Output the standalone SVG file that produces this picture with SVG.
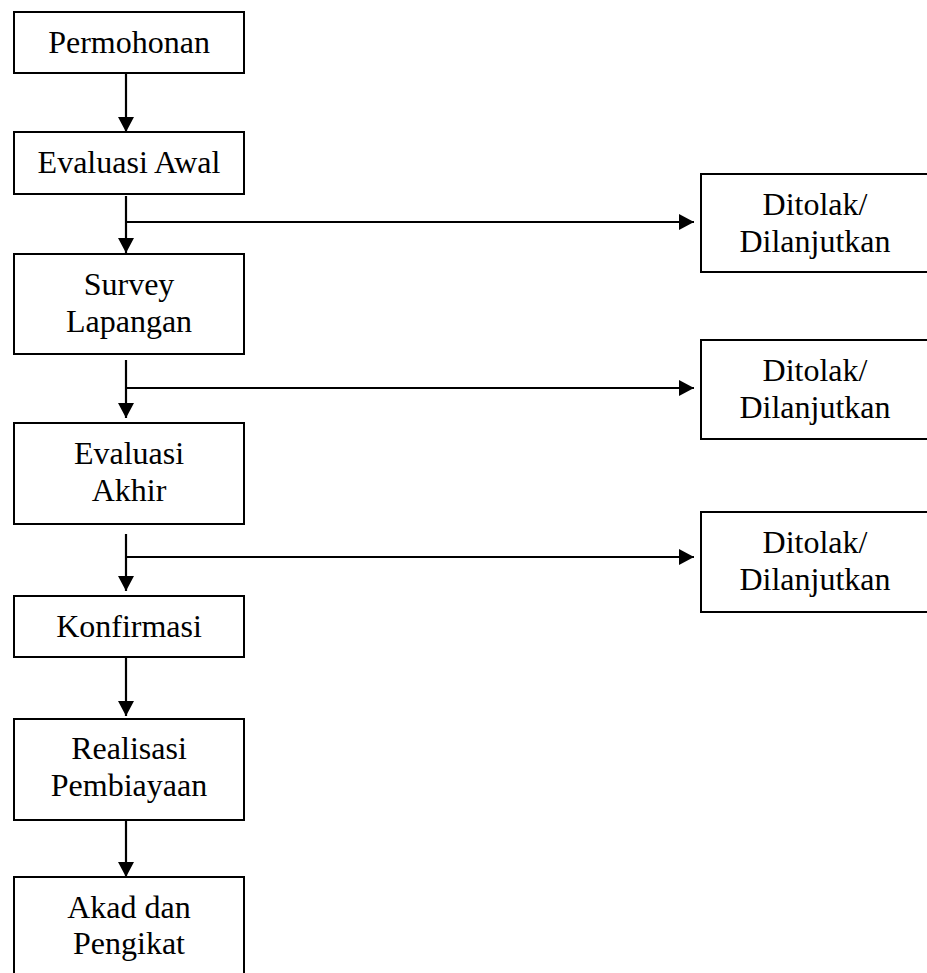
<svg xmlns="http://www.w3.org/2000/svg" width="927" height="973" viewBox="0 0 927 973">
<style>
.box{fill:#fff;stroke:#000;stroke-width:2}
.lbl{font-size:32px;fill:#000;text-anchor:middle}
.con{fill:none;stroke:#000;stroke-width:2.2}
</style>
<defs>
<marker id="ah" markerUnits="userSpaceOnUse" markerWidth="16" markerHeight="16" refX="15" refY="8" orient="auto">
<path d="M0,0 L15,8 L0,16 z" fill="#000"/>
</marker>
</defs>
<rect width="927" height="973" fill="#fff"/>
<g font-family="Liberation Serif, Times New Roman, serif">
<g id="n-permohonan"><rect class="box" x="14" y="12" width="230" height="61"/><text class="lbl" x="129" y="53">Permohonan</text></g>
<g id="n-evaluasi-awal"><rect class="box" x="14" y="132" width="230" height="62"/><text class="lbl" x="129" y="173">Evaluasi Awal</text></g>
<g id="n-survey"><rect class="box" x="14" y="254" width="230" height="100"/><text class="lbl" x="129" y="295">Survey</text><text class="lbl" x="129" y="332">Lapangan</text></g>
<g id="n-evaluasi-akhir"><rect class="box" x="14" y="423" width="230" height="101"/><text class="lbl" x="129" y="464">Evaluasi</text><text class="lbl" x="129" y="501">Akhir</text></g>
<g id="n-konfirmasi"><rect class="box" x="14" y="596" width="230" height="61"/><text class="lbl" x="129" y="637">Konfirmasi</text></g>
<g id="n-realisasi"><rect class="box" x="14" y="719" width="230" height="101"/><text class="lbl" x="129" y="759">Realisasi</text><text class="lbl" x="129" y="796">Pembiayaan</text></g>
<g id="n-akad"><rect class="box" x="14" y="877" width="230" height="110"/><text class="lbl" x="129" y="918">Akad dan</text><text class="lbl" x="129" y="954">Pengikat</text></g>
<g id="n-ditolak1"><rect class="box" x="701" y="174" width="240" height="98"/><text class="lbl" x="815" y="215">Ditolak/</text><text class="lbl" x="815" y="252">Dilanjutkan</text></g>
<g id="n-ditolak2"><rect class="box" x="701" y="340" width="240" height="99"/><text class="lbl" x="815" y="381">Ditolak/</text><text class="lbl" x="815" y="418">Dilanjutkan</text></g>
<g id="n-ditolak3"><rect class="box" x="701" y="512" width="240" height="100"/><text class="lbl" x="815" y="553">Ditolak/</text><text class="lbl" x="815" y="590">Dilanjutkan</text></g>
</g>
<g id="connectors">
<line class="con" x1="126" y1="73" x2="126" y2="132" marker-end="url(#ah)"/>
<line class="con" x1="126" y1="196" x2="126" y2="253" marker-end="url(#ah)"/>
<line class="con" x1="126" y1="222" x2="694" y2="222" marker-end="url(#ah)"/>
<line class="con" x1="126" y1="360" x2="126" y2="418" marker-end="url(#ah)"/>
<line class="con" x1="126" y1="388" x2="694" y2="388" marker-end="url(#ah)"/>
<line class="con" x1="126" y1="534" x2="126" y2="591" marker-end="url(#ah)"/>
<line class="con" x1="126" y1="557" x2="694" y2="557" marker-end="url(#ah)"/>
<line class="con" x1="126" y1="657" x2="126" y2="716" marker-end="url(#ah)"/>
<line class="con" x1="126" y1="820" x2="126" y2="877" marker-end="url(#ah)"/>
</g>
</svg>
